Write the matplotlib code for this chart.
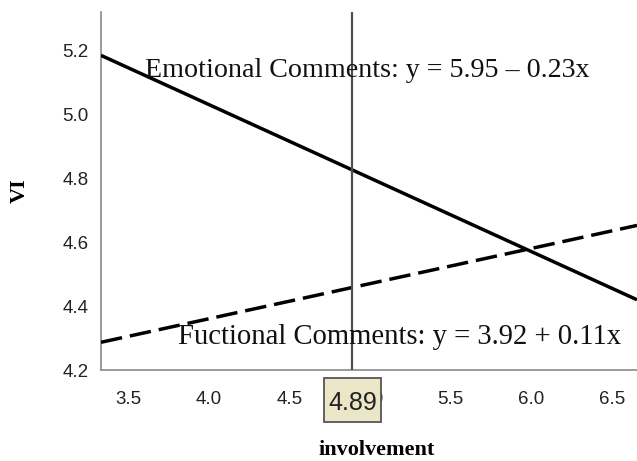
import numpy as np
import matplotlib
matplotlib.use("Agg")
import matplotlib.pyplot as plt
from matplotlib.patches import Rectangle
from matplotlib.transforms import blended_transform_factory

# Data
x_range = [3.333, 6.654]
emotional_coef = [5.95, -0.23]
functional_coef = [3.92, 0.11]
ref_x = 4.89
xticks = [3.5, 4.0, 4.5, 5.0, 5.5, 6.0, 6.5]
yticks = [4.2, 4.4, 4.6, 4.8, 5.0, 5.2]
emotional_label = "Emotional Comments: y = 5.95 \u2013 0.23x"
functional_label = "Fuctional Comments: y = 3.92 + 0.11x"

fig = plt.figure(figsize=(6.37, 4.61), dpi=100)
ax = fig.add_axes([101/637, 1-370/461, 1-101/637, (370-12)/461])

xs = np.array(x_range)
ax.plot(xs, emotional_coef[0] + emotional_coef[1]*xs, color='black', lw=2.5,
        solid_capstyle='butt', zorder=3)
ax.plot(xs, functional_coef[0] + functional_coef[1]*xs, color='black', lw=2.5,
        dashes=(6.2, 2.3), zorder=3)
ax.axvline(ref_x, color='#505050', lw=1.6, zorder=4)

ax.set_xlim(x_range)
ax.set_ylim(4.2, 5.319)
ax.set_xticks(xticks)
ax.set_yticks(yticks)
ax.set_xticklabels([f"{v:.1f}" for v in xticks], family='Liberation Sans', fontsize=13.5)
ax.set_yticklabels([f"{v:.1f}" for v in yticks], family='Liberation Sans', fontsize=13.5)
ax.tick_params(axis='both', length=0, colors='#222222')
ax.tick_params(axis='x', pad=15)
ax.tick_params(axis='y', pad=9)

for s in ['top', 'right']:
    ax.spines[s].set_visible(False)
for s in ['left', 'bottom']:
    ax.spines[s].set_color('#8a8a8a')
    ax.spines[s].set_linewidth(1.2)

ax.text(3.605, 5.1375, emotional_label, family='Liberation Serif', fontsize=20.2,
        ha='left', va='center', color='#111111', zorder=5)
ax.text(3.808, 4.303, functional_label, family='Liberation Serif', fontsize=20.6,
        ha='left', va='center', color='#111111', zorder=5)

# reference-value tag under the axis
bt = blended_transform_factory(ax.transData, ax.transAxes)
box_w = 0.352
ax.add_patch(Rectangle((ref_x - box_w/2, -0.145), box_w, 0.123, transform=bt,
                       facecolor='#ece6c8', edgecolor='#555555', lw=1.3,
                       clip_on=False, zorder=6))
ax.text(ref_x, -0.093, f"{ref_x:.2f}", transform=bt, family='Liberation Sans',
        fontsize=18, ha='center', va='center', color='#222222', zorder=7, clip_on=False)

fig.text(377/637, 1-450/461, "involvement", family='Liberation Serif',
         fontweight='bold', fontsize=16, ha='center', va='center')
fig.text(20/637, 1-191/461, "VI", family='Liberation Serif', fontweight='bold',
         fontsize=16, ha='center', va='center', rotation=90)

fig.savefig("out.png", dpi=100)
